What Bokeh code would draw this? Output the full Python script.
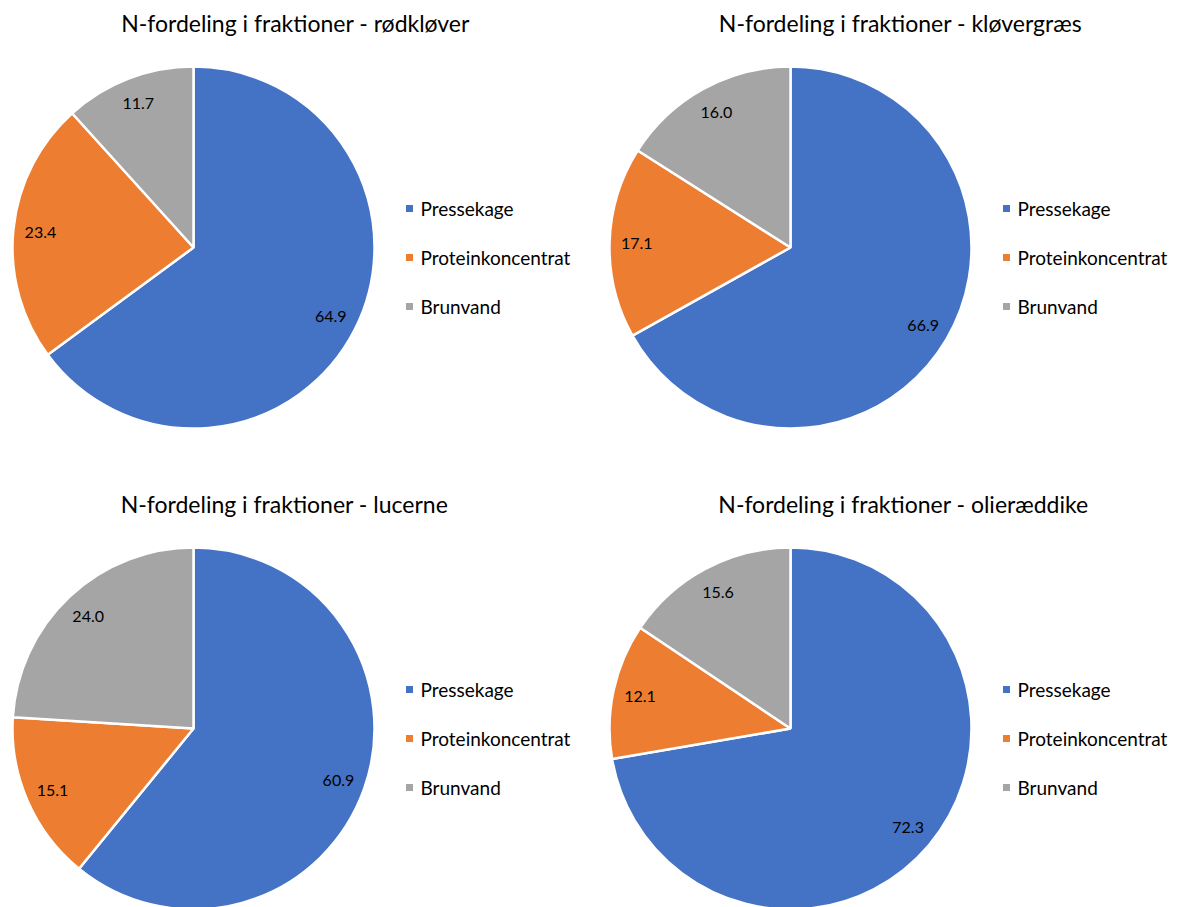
import math
from bokeh.plotting import figure
from bokeh.models import ColumnDataSource, Range1d
from bokeh.core.properties import value
from bokeh.embed import file_html
from bokeh.resources import INLINE

# ---- data ----
categories = ["Pressekage", "Proteinkoncentrat", "Brunvand"]
colors = ["#4472C4", "#ED7D31", "#A5A5A5"]
titles = [
    "N-fordeling i fraktioner - rødkløver",
    "N-fordeling i fraktioner - kløvergræs",
    "N-fordeling i fraktioner - lucerne",
    "N-fordeling i fraktioner - olieræddike",
]
rodklover = [64.9, 23.4, 11.7]
klovergraes = [66.9, 17.1, 16.0]
lucerne = [60.9, 15.1, 24.0]
olieraeddike = [72.3, 12.1, 15.6]
series = [rodklover, klovergraes, lucerne, olieraeddike]

# ---- layout (pixel positions) ----
W, H = 1185, 907
FONT = "Lato"
panel_origin = [(0, 0), (597, 0), (0, 481), (597, 481)]
pie_cx, pie_cy, R = 193, 247, 181
title_cx = [295, 303, 284, 306]
title_cy = 22
leg_x, leg_rows = 409, [208, 257, 306]

p = figure(width=W, height=H, x_range=Range1d(0, W), y_range=Range1d(0, H),
           output_backend="svg", toolbar_location=None, min_border=0)
p.axis.visible = False
p.grid.visible = False
p.outline_line_color = None
p.background_fill_color = "white"
p.border_fill_color = "white"

def Y(py):
    return H - py

for k, vals in enumerate(series):
    ox, oy = panel_origin[k]
    cx, cy = ox + pie_cx, Y(oy + pie_cy)
    total = sum(vals)
    starts, ends, lx, ly, labels = [], [], [], [], []
    cum = 0.0
    for v in vals:
        a0 = math.pi / 2 - 2 * math.pi * cum / total
        a1 = math.pi / 2 - 2 * math.pi * (cum + v) / total
        mid = (a0 + a1) / 2
        starts.append(a0)
        ends.append(a1)
        lx.append(cx + 0.85 * R * math.cos(mid))
        ly.append(cy + 0.85 * R * math.sin(mid))
        labels.append(f"{v:.1f}")
        cum += v
    src = ColumnDataSource(dict(x=[cx] * 3, y=[cy] * 3, start=starts, end=ends,
                                color=colors, lx=lx, ly=ly, label=labels))
    p.wedge(x="x", y="y", radius=R, start_angle="start", end_angle="end",
            direction="clock", fill_color="color", line_color="white",
            line_width=2.5, source=src)
    p.text(x="lx", y="ly", text="label", source=src, text_align="center",
           text_baseline="middle", text_font=value(FONT), text_font_size="16px",
           text_color="#000000")
    # title
    p.text(x=[ox + title_cx[k]], y=[Y(oy + title_cy)],
           text=[titles[k]], text_align="center", text_baseline="middle",
           text_font=value(FONT), text_font_size="23px", text_font_style="normal",
           text_color="#000000")
    # legend
    lsrc = ColumnDataSource(dict(x=[ox + leg_x] * 3,
                                 tx=[ox + leg_x + 11] * 3,
                                 y=[Y(oy + r) for r in leg_rows],
                                 color=colors, label=categories))
    p.scatter(x="x", y="y", marker="square", size=7, fill_color="color",
              line_color=None, source=lsrc)
    p.text(x="tx", y="y", text="label", source=lsrc, text_align="left",
           text_baseline="middle", text_font=value(FONT), text_font_size="19px",
           text_color="#000000")

open("out.html", "w").write(file_html(p, INLINE))
